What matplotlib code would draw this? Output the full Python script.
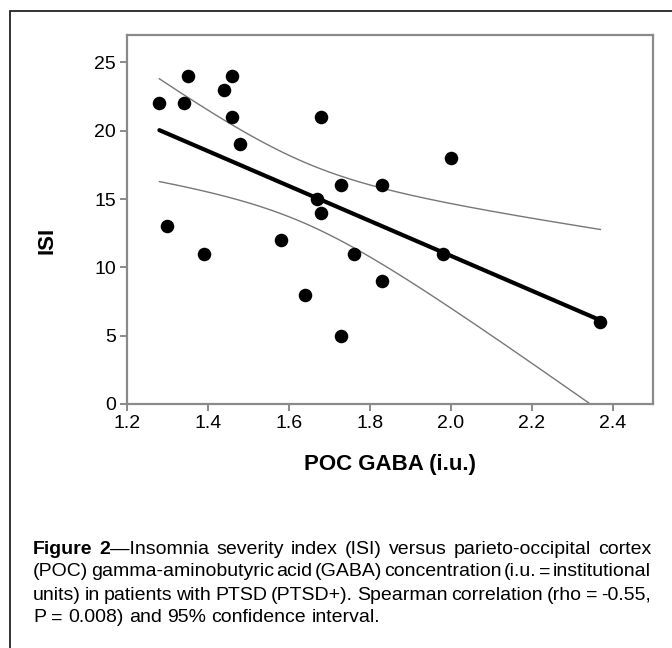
import matplotlib
matplotlib.use("Agg")
import matplotlib.pyplot as plt
from matplotlib.patches import Rectangle
import numpy as np

# 数据：POC GABA (i.u.) 与 ISI
gaba = [1.28, 1.30, 1.34, 1.35, 1.39, 1.44, 1.46, 1.46, 1.48, 1.58, 1.64,
        1.67, 1.68, 1.68, 1.73, 1.73, 1.76, 1.83, 1.83, 1.98, 2.00, 2.37]
isi = [22, 13, 22, 24, 11, 23, 24, 21, 19, 12, 8,
       15, 21, 14, 16, 5, 11, 16, 9, 11, 18, 6]

x_ticks = [1.2, 1.4, 1.6, 1.8, 2.0, 2.2, 2.4]
y_ticks = [0, 5, 10, 15, 20, 25]

caption = [
    [("Figure", "bold", True), ("2", "bold", False), ("\u2014Insomnia", "normal", True),
     ("severity", "normal", True), ("index", "normal", True), ("(ISI)", "normal", True),
     ("versus", "normal", True), ("parieto-occipital", "normal", True), ("cortex", "normal", False)],
    "(POC) gamma-aminobutyric acid (GABA) concentration (i.u. = institutional",
    "units) in patients with PTSD (PTSD+). Spearman correlation (rho = -0.55,",
    "P = 0.008) and 95% confidence interval.",
]

FAM = ["Liberation Sans Narrow", "Liberation Sans", "DejaVu Sans"]
plt.rcParams["font.family"] = FAM

W, H = 672, 648
fig = plt.figure(figsize=(W / 100, H / 100), dpi=100)

# 外框
fig.patches.append(Rectangle((10 / W, -0.1), 1.2, 1 - 11 / H + 0.1, transform=fig.transFigure,
                             fill=False, edgecolor="#222222", linewidth=1.3))

ax = fig.add_axes([127 / W, 1 - 404 / H, (653 - 127) / W, (404 - 35) / H])

x = np.array(gaba)
y = np.array(isi)
n = len(x)
b, a = np.polyfit(x, y, 1)
xs = np.linspace(x.min(), x.max(), 200)
fit = a + b * xs
resid = y - (a + b * x)
s = np.sqrt(np.sum(resid ** 2) / (n - 2))
t_crit = 2.086  # t(0.975, df=20)
se = s * np.sqrt(1 / n + (xs - x.mean()) ** 2 / np.sum((x - x.mean()) ** 2))

ax.plot(xs, fit + t_crit * se, color="#777777", lw=1.0, zorder=2)
ax.plot(xs, fit - t_crit * se, color="#777777", lw=1.0, zorder=2)
ax.plot(xs, fit, color="black", lw=3.0, zorder=3, solid_capstyle="round")
ax.scatter(x, y, s=95, color="black", zorder=4, linewidths=0)

ax.set_xlim(1.2, 2.5)
ax.set_ylim(0, 27)
ax.set_xticks(x_ticks)
ax.set_xticklabels([f"{v:.1f}" for v in x_ticks])
ax.set_yticks(y_ticks)
for sp in ax.spines.values():
    sp.set_color("#8a8a8a")
    sp.set_linewidth(1.6)
ax.tick_params(colors="#8a8a8a", labelcolor="black", length=5, width=1.4, labelsize=14, pad=3)

ax.set_xlabel("POC GABA (i.u.)", fontsize=16, fontweight="bold", labelpad=16)
ax.set_ylabel("ISI", fontsize=16, fontweight="bold")
ax.yaxis.set_label_coords(-0.132, 0.444)

# 两端对齐的图注
renderer = fig.canvas.get_renderer()
x0, x1 = 33, 651
ys = [549, 572, 595, 618]
fs = 14


def width_of(txt, weight):
    t = fig.text(0, 0, txt, fontsize=fs, fontweight=weight)
    w = t.get_window_extent(renderer).width
    t.remove()
    return w


space_w = width_of("a b", "normal") - width_of("ab", "normal")
for i, line in enumerate(caption):
    if isinstance(line, str):
        words = line.split(" ")
        tokens = [(w, "normal", k < len(words) - 1) for k, w in enumerate(words)]
    else:
        tokens = line
    widths = [width_of(t, wt) for t, wt, _ in tokens]
    gaps = sum(1 for _, _, sp in tokens[:-1] if sp)
    last = i == len(caption) - 1
    gap = space_w if last else (x1 - x0 - sum(widths)) / gaps
    cx = x0
    for (t, wt, sp), w in zip(tokens, widths):
        fig.text(cx / W, 1 - ys[i] / H, t, fontsize=fs, fontweight=wt, va="center", ha="left")
        cx += w + (gap if sp else 0)

fig.savefig("out.png", dpi=100)
